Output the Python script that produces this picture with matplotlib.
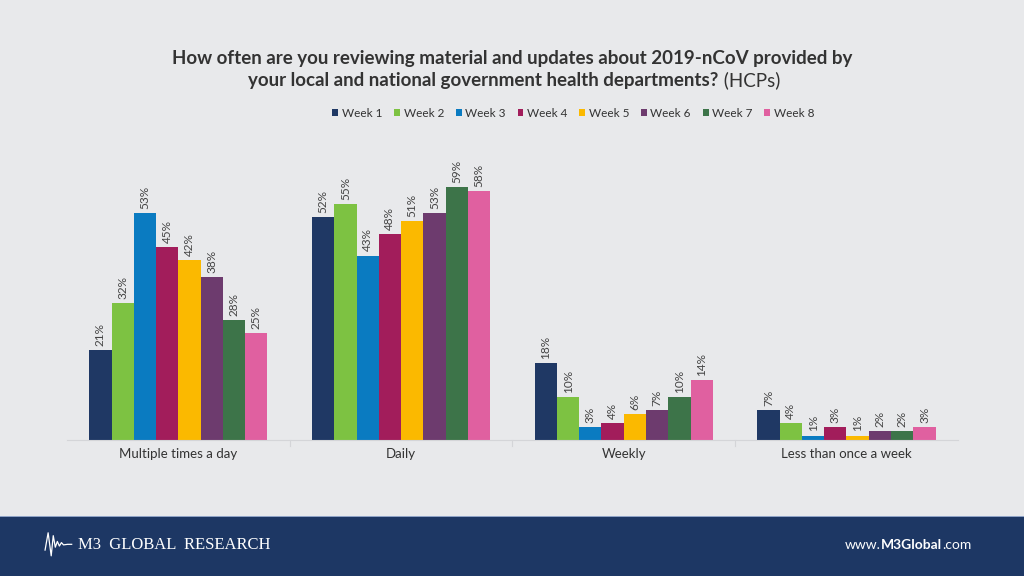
import numpy as np
import matplotlib.pyplot as plt
from matplotlib.patches import Rectangle
from matplotlib.lines import Line2D

plt.rcParams['font.family'] = ['Lato', 'DejaVu Sans']

# Survey data (% of HCPs)
categories = ['Multiple times a day', 'Daily', 'Weekly', 'Less than once a week']
weeks = ['Week 1', 'Week 2', 'Week 3', 'Week 4', 'Week 5', 'Week 6', 'Week 7', 'Week 8']
week1 = [21, 52, 18, 7]
week2 = [32, 55, 10, 4]
week3 = [53, 43, 3, 1]
week4 = [45, 48, 4, 3]
week5 = [42, 51, 6, 1]
week6 = [38, 53, 7, 2]
week7 = [28, 59, 10, 2]
week8 = [25, 58, 14, 3]
series = [week1, week2, week3, week4, week5, week6, week7, week8]
colors = ['#1f3864', '#7dc242', '#0a7bc1', '#a21d5b', '#fbb900', '#6d3b6e', '#3d7449', '#e060a0']

bg = '#e8e9eb'
text_col = '#333333'

fig = plt.figure(figsize=(10.24, 5.76), dpi=100, facecolor=bg)
ax = fig.add_axes([0.0654, 0.236, 0.870, 0.521], facecolor=bg)

n = len(series)
width = 0.8 / n
x = np.arange(len(categories))
for i, (vals, c, w) in enumerate(zip(series, colors, weeks)):
    pos = x - 0.4 + width * (i + 0.5)
    ax.bar(pos, vals, width=width, color=c, label=w, linewidth=0)
    for p, v in zip(pos, vals):
        ax.text(p, v + 1.0, f'{v}%', rotation=90, ha='center', va='bottom',
                fontsize=8.5, color='#444444')

ax.set_xlim(-0.5, len(categories) - 0.5)
ax.set_ylim(0, 70)
ax.set_yticks([])
ax.set_xticks(x)
ax.set_xticklabels(categories, fontsize=9.5, color=text_col)
ax.tick_params(axis='x', length=0, pad=6)
for s in ['top', 'right', 'left']:
    ax.spines[s].set_visible(False)
ax.spines['bottom'].set_color('#d4d5d8')
for b in np.arange(0.5, len(categories) - 0.5):
    ax.axvline(b, ymin=-0.02, ymax=0, color='#d4d5d8', lw=0.8, clip_on=False)

leg = fig.legend(loc='center', bbox_to_anchor=(0.560, 0.803), ncol=8, frameon=False,
                 fontsize=8.5, handlelength=0.5, handleheight=0.5, handletextpad=0.3,
                 columnspacing=1.0)
for t in leg.get_texts():
    t.set_color(text_col)

# Title
fig.text(0.5, 0.898, 'How often are you reviewing material and updates about 2019-nCoV provided by',
         ha='center', va='center', fontsize=13.5, fontweight='bold', color=text_col)
t2 = fig.text(0.472, 0.860, 'your local and national government health departments?',
              ha='center', va='center', fontsize=13.5, fontweight='bold', color=text_col)
ax.annotate(' (HCPs)', xy=(1, 0.5), xycoords=t2, va='center', ha='left',
            fontsize=13.5, color=text_col, annotation_clip=False)

# Footer band
fig.patches.append(Rectangle((0, 0), 1, 0.102, transform=fig.transFigure,
                             facecolor='#1d3764', edgecolor='none', zorder=-2))
fig.patches.append(Rectangle((0, 0.102), 1, 0.003, transform=fig.transFigure,
                             facecolor='#8fa3c6', edgecolor='none', zorder=-2))
wave_x = [0.044, 0.047, 0.050, 0.052, 0.054, 0.056, 0.058, 0.060, 0.062, 0.066, 0.070]
wave_y = [0.045, 0.075, 0.035, 0.070, 0.050, 0.060, 0.052, 0.058, 0.054, 0.055, 0.055]
fig.lines.append(Line2D(wave_x, wave_y, transform=fig.transFigure, color='white', lw=0.9))
fig.text(0.076, 0.054, 'M3  GLOBAL  RESEARCH', ha='left', va='center', fontsize=12,
         family='Liberation Serif', color='white')
url = fig.text(0.825, 0.054, 'www.', ha='left', va='center', fontsize=10, color='white')
m3 = ax.annotate('M3Global', xy=(1, 0.5), xycoords=url, va='center', ha='left',
                 fontsize=10, fontweight='bold', color='white', annotation_clip=False)
ax.annotate('.com', xy=(1, 0.5), xycoords=m3, va='center', ha='left',
            fontsize=10, color='white', annotation_clip=False)

fig.savefig('out.png', dpi=100, facecolor=bg)
